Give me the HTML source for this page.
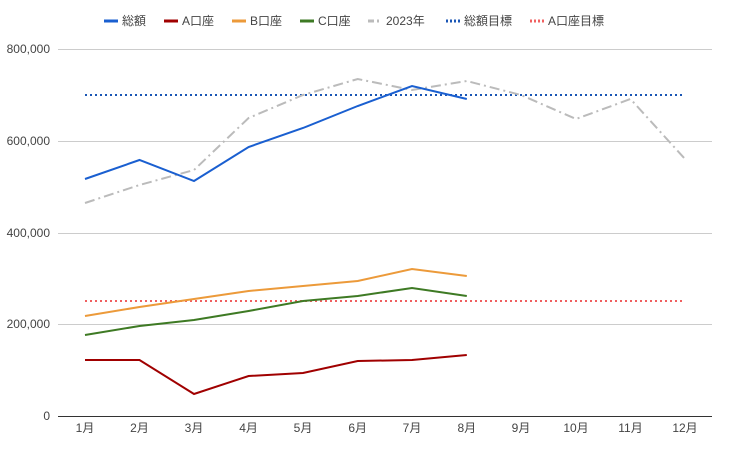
<!DOCTYPE html>
<html><head><meta charset="utf-8"><style>
body{margin:0;background:#fff}
text{font-family:"Liberation Sans","Noto Sans CJK JP",sans-serif;font-size:12px;fill:#444}
</style></head><body>
<svg width="730" height="450" xmlns="http://www.w3.org/2000/svg">
<g stroke="#ccc" stroke-width="1">
<line x1="58" x2="712" y1="49.5" y2="49.5"/><line x1="58" x2="712" y1="141.5" y2="141.5"/>
<line x1="58" x2="712" y1="233.5" y2="233.5"/><line x1="58" x2="712" y1="324.5" y2="324.5"/>
</g>
<line x1="58" x2="712" y1="416.5" y2="416.5" stroke="#333"/>
<g text-anchor="end">
<text x="50" y="53">800,000</text><text x="50" y="145">600,000</text><text x="50" y="237">400,000</text><text x="50" y="328">200,000</text><text x="50" y="420">0</text>
</g>
<g text-anchor="middle">
<text x="85" y="432">1月</text><text x="139.5" y="432">2月</text><text x="194" y="432">3月</text><text x="248.6" y="432">4月</text><text x="303" y="432">5月</text><text x="357.7" y="432">6月</text><text x="412" y="432">7月</text><text x="466.8" y="432">8月</text><text x="521" y="432">9月</text><text x="576" y="432">10月</text><text x="630.5" y="432">11月</text><text x="685" y="432">12月</text>
</g>
<g fill="none" stroke-width="2">
<line x1="85" x2="685" y1="95" y2="95" stroke="#1a56b5" stroke-dasharray="2,3"/>
<line x1="85" x2="685" y1="301" y2="301" stroke="#f06060" stroke-dasharray="2,3"/>
<polyline stroke="#bbb" stroke-dasharray="10,4,2,4" points="85,203 139.5,185 194,170 248.6,118 303,95 357.7,79 412,90 466.8,81 521,95 576,119 630.5,99 685,159"/>
<polyline stroke="#1a5fd0" points="85,179 139.5,160 194,181 248.6,147 303,128 357.7,106 412,86 466.8,99"/>
<polyline stroke="#a00000" points="85,360 139.5,360 194,394 248.6,376 303,373 357.7,361 412,360 466.8,355"/>
<polyline stroke="#ec9a3a" points="85,316 139.5,307 194,299 248.6,291 303,286 357.7,281 412,269 466.8,276"/>
<polyline stroke="#3e7a24" points="85,335 139.5,326 194,320 248.6,311 303,301 357.7,296 412,288 466.8,296"/>
</g>
<g stroke-width="3" fill="none">
<line x1="104" x2="118" y1="21" y2="21" stroke="#1a5fd0"/>
<line x1="164" x2="178" y1="21" y2="21" stroke="#a00000"/>
<line x1="232" x2="246" y1="21" y2="21" stroke="#ec9a3a"/>
<line x1="300" x2="314" y1="21" y2="21" stroke="#3e7a24"/>
<line x1="368" x2="382" y1="21" y2="21" stroke="#bbb" stroke-dasharray="6,3,2,3"/>
<line x1="446" x2="460" y1="21" y2="21" stroke="#1a56b5" stroke-dasharray="2,2"/>
<line x1="530" x2="544" y1="21" y2="21" stroke="#f06060" stroke-dasharray="2,2"/>
</g>
<text x="122" y="25">総額</text><text x="182" y="25">A口座</text><text x="250" y="25">B口座</text><text x="318" y="25">C口座</text><text x="386" y="25">2023年</text><text x="464" y="25">総額目標</text><text x="548" y="25">A口座目標</text>
</svg>
</body></html>
